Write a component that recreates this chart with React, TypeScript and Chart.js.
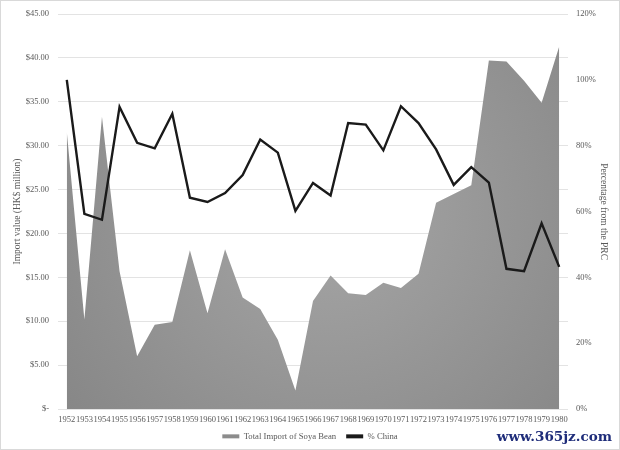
import React, { useEffect, useRef } from "react";
import { Chart, registerables } from "chart.js";

Chart.register(...registerables);

const years = [
  "1952", "1953", "1954", "1955", "1956", "1957", "1958", "1959", "1960", "1961",
  "1962", "1963", "1964", "1965", "1966", "1967", "1968", "1969", "1970", "1971",
  "1972", "1973", "1974", "1975", "1976", "1977", "1978", "1979", "1980",
];

const totalImport = [
  31.6, 10.2, 33.3, 15.7, 6.0, 9.6, 9.9, 18.1, 10.9, 18.2,
  12.7, 11.4, 7.9, 2.1, 12.3, 15.2, 13.2, 13.0, 14.4, 13.8,
  15.4, 23.5, 24.5, 25.5, 39.7, 39.6, 37.4, 34.9, 41.3,
];

const pctChina = [
  100, 59.3, 57.5, 91.8, 80.9, 79.2, 89.7, 64.2, 62.9, 65.6,
  71.1, 81.9, 77.9, 60.2, 68.7, 64.9, 86.9, 86.4, 78.6, 92.0,
  86.9, 78.9, 68.1, 73.5, 68.8, 42.6, 41.9, 56.4, 43.2,
];

const seriesNames = ["Total Import of Soya Bean", "% China"];
const leftTitle = "Import value (HK$ million)";
const rightTitle = "Percentage from the PRC";

const FONT = "'Liberation Serif', 'Times New Roman', serif";
const TEXT = "#595959";
const seriesColors = ["#8c8c8c", "#1a1a1a"];

const legendHeightPlugin = {
  id: "legendHeight",
  beforeLayout(chart: any) {
    const legend = chart.legend;
    if (legend && !legend.__patched) {
      const orig = legend.fit;
      legend.fit = function (this: any) {
        orig.call(this);
        this.height = 28;
      };
      legend.__patched = true;
    }
  },
};

export default function App() {
  const canvasRef = useRef<HTMLCanvasElement | null>(null);

  useEffect(() => {
    document.body.style.margin = "0";
    const canvas = canvasRef.current;
    if (!canvas) return;

    const areaFill = (ctx: any) => {
      const chart = ctx.chart;
      const ca = chart.chartArea;
      if (!ca) return "#939393";
      const cx = (ca.left + ca.right) / 2 + 15;
      const cy = ca.top + (ca.bottom - ca.top) * 0.5;
      const g = chart.ctx.createRadialGradient(cx, cy, 0, cx, cy, 380);
      g.addColorStop(0, "#a6a6a6");
      g.addColorStop(1, "#828282");
      return g;
    };

    const chart = new Chart(canvas, {
      type: "line",
      data: {
        labels: years,
        datasets: [
          {
            label: seriesNames[0],
            data: totalImport,
            yAxisID: "y",
            backgroundColor: areaFill,
            borderWidth: 0,
            borderColor: "rgba(0,0,0,0)",
            fill: "origin",
            pointRadius: 0,
            tension: 0,
            order: 2,
          },
          {
            label: seriesNames[1],
            data: pctChina,
            yAxisID: "y1",
            borderColor: seriesColors[1],
            backgroundColor: seriesColors[1],
            borderWidth: 2.4,
            fill: false,
            pointRadius: 0,
            tension: 0,
            order: 1,
          },
        ],
      },
      plugins: [legendHeightPlugin],
      options: {
        animation: false,
        responsive: false,
        devicePixelRatio: 1,
        layout: { padding: { top: 2, bottom: 0, left: 0, right: 0 } },
        plugins: {
          tooltip: { enabled: false },
          legend: {
            position: "bottom",
            labels: {
              boxWidth: 17,
              boxHeight: 4,
              padding: 10,
              color: TEXT,
              font: { family: FONT, size: 8.7 },
              generateLabels: (c: any) => {
                const items = Chart.defaults.plugins.legend.labels.generateLabels(c);
                return items
                  .map((it: any) => ({
                    ...it,
                    fillStyle: seriesColors[it.datasetIndex],
                    strokeStyle: seriesColors[it.datasetIndex],
                    lineWidth: 0,
                  }))
                  .sort((a: any, b: any) => a.datasetIndex - b.datasetIndex);
              },
            },
          },
        },
        scales: {
          x: {
            offset: true,
            grid: { display: false, drawTicks: false },
            border: { display: false },
            afterFit: (s: any) => {
              s.height = 13;
            },
            ticks: {
              color: TEXT,
              font: { family: FONT, size: 8.5 },
              maxRotation: 0,
              autoSkip: false,
              padding: 6,
            },
          },
          y: {
            position: "left",
            min: 0,
            max: 45,
            afterFit: (s: any) => {
              s.width = 58;
            },
            ticks: {
              stepSize: 5,
              color: TEXT,
              padding: 9,
              font: { family: FONT, size: 8.5 },
              callback: (v: any) => (Number(v) === 0 ? "$-" : "$" + Number(v).toFixed(2)),
            },
            grid: { color: "#e3e3e3", lineWidth: 1, drawTicks: false },
            border: { display: false },
            title: {
              display: true,
              text: leftTitle,
              color: TEXT,
              padding: { top: 12, bottom: 0 },
              font: { family: FONT, size: 9.5 },
            },
          },
          y1: {
            position: "right",
            min: 0,
            max: 120,
            afterFit: (s: any) => {
              s.width = 52;
            },
            ticks: {
              stepSize: 20,
              color: TEXT,
              padding: 8,
              font: { family: FONT, size: 8.5 },
              callback: (v: any) => Number(v) + "%",
            },
            grid: { display: false, drawTicks: false },
            border: { display: false },
            title: {
              display: true,
              text: rightTitle,
              color: TEXT,
              padding: { top: 11, bottom: 0 },
              font: { family: FONT, size: 9.5 },
            },
          },
        },
      },
    });

    return () => chart.destroy();
  }, []);

  return (
    <div style={{ position: "relative", width: 620, height: 450, background: "#fff" }}>
      <canvas ref={canvasRef} width={620} height={450} style={{ display: "block" }} />
      <div
        style={{
          position: "absolute",
          inset: 0,
          border: "1px solid #d9d9d9",
          pointerEvents: "none",
        }}
      />
      <div
        style={{
          position: "absolute",
          right: 8,
          bottom: 6,
          fontFamily: "'DejaVu Serif', serif",
          fontWeight: "bold",
          fontSize: 13.5,
          color: "#1f2d7a",
        }}
      >
        www.365jz.com
      </div>
    </div>
  );
}
